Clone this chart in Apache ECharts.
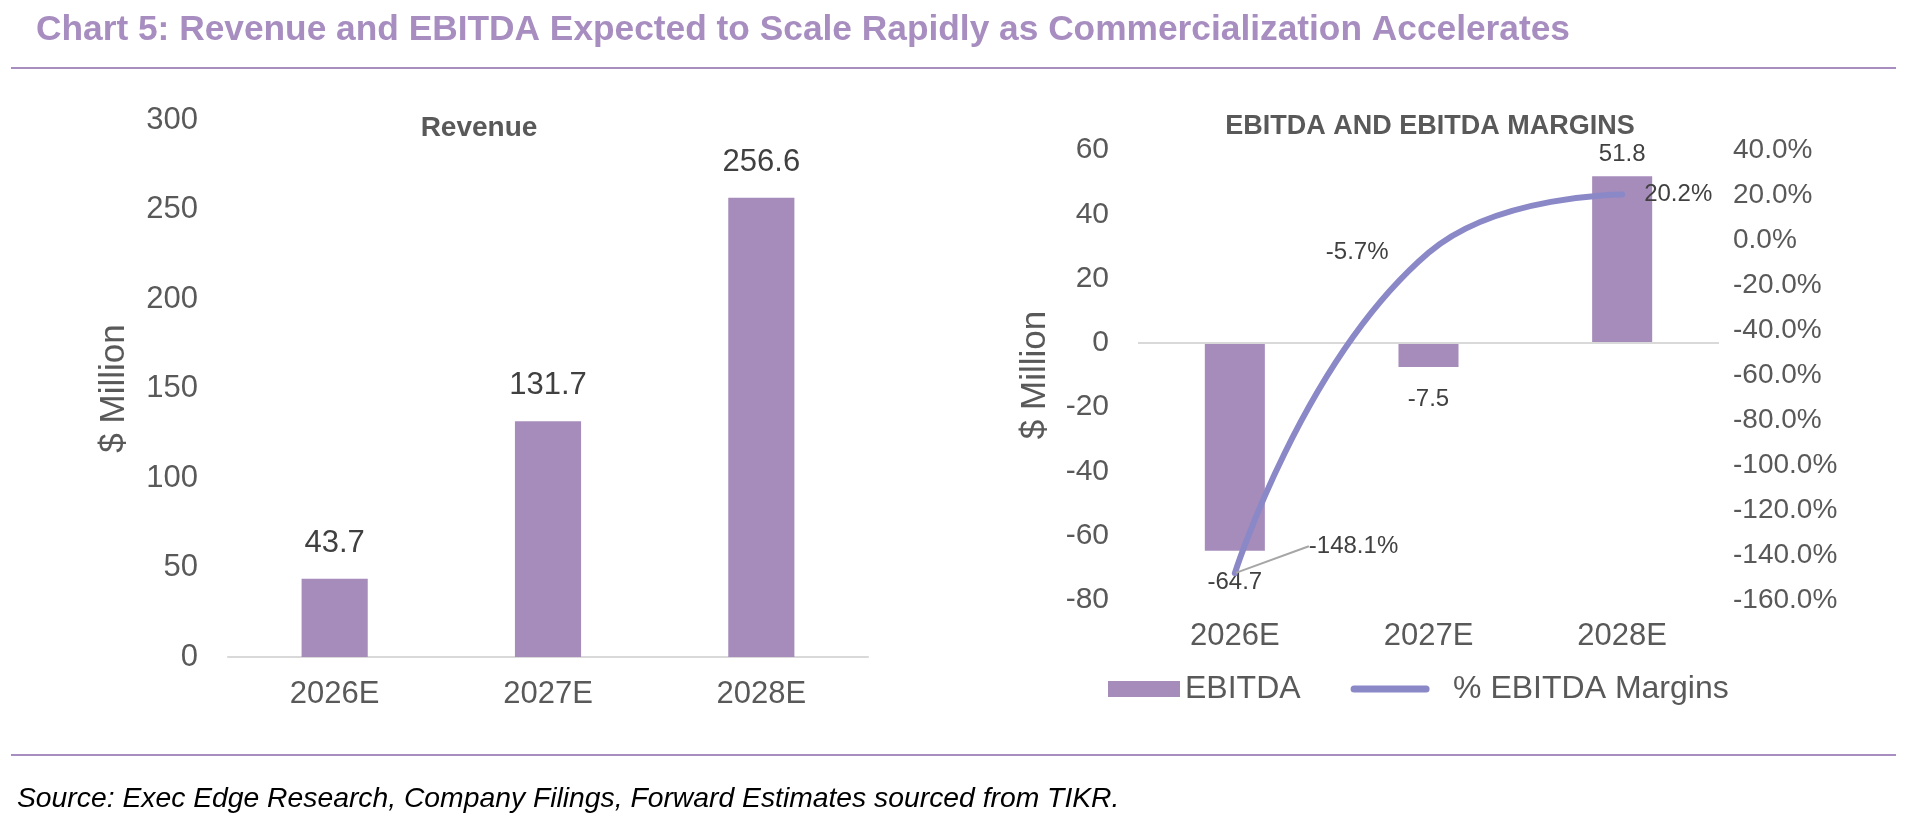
<!DOCTYPE html>
<html>
<head>
<meta charset="utf-8">
<title>Chart 5</title>
<script src="https://cdn.jsdelivr.net/npm/echarts@6/dist/echarts.min.js"></script>
<style>
  html, body { margin: 0; padding: 0; background: #fff; }
  #chart { width: 1906px; height: 824px; }
</style>
</head>
<body>
<div id="chart"></div>
<script>
// data
var years = ['2026E', '2027E', '2028E'];
var revenue = [43.7, 131.7, 256.6];
var ebitda = [-64.7, -7.5, 51.8];
var ebitdaMargin = [-148.1, -5.7, 20.2];

var purple = '#A68CBA';
var lineBlue = '#8B88C8';
var axisText = '#595959';
var labelText = '#404040';
var font = 'Liberation Sans, Arial, sans-serif';

var chart = echarts.init(document.getElementById('chart'));

// negative bars get their label below the bar
var ebitdaData = ebitda.map(function (v) {
    return {
        value: v,
        label: { position: v < 0 ? 'bottom' : 'top', distance: v < 0 ? 20 : 10 }
    };
});

// margin labels sit left / right of the line points, only the first one has a leader line
var marginData = ebitdaMargin.map(function (v, i) {
    var pos = ['right', 'left', 'right'][i];
    var dist = [8, 39, 21][i];
    return {
        value: v,
        label: { position: pos, distance: dist },
        labelLine: { show: i === 0 }
    };
});

var option = {
    animation: false,
    textStyle: { fontFamily: font },
    title: [{
        text: 'Chart 5: Revenue and EBITDA Expected to Scale Rapidly as Commercialization Accelerates',
        left: 31,
        top: 8,
        textStyle: { color: '#A78DC0', fontSize: 35.3, fontWeight: 'bold', fontFamily: font }
    }, {
        text: 'Revenue',
        left: 474,
        top: 109,
        textAlign: 'center',
        textStyle: { color: axisText, fontSize: 28, fontWeight: 'bold', fontFamily: font }
    }, {
        text: 'EBITDA AND EBITDA MARGINS',
        left: 1425,
        top: 108,
        textAlign: 'center',
        textStyle: { color: axisText, fontSize: 27, fontWeight: 'bold', fontFamily: font }
    }, {
        text: 'Source: Exec Edge Research, Company Filings, Forward Estimates sourced from TIKR.',
        left: 12,
        top: 780,
        textStyle: { color: '#000', fontSize: 28.3, fontWeight: 'normal', fontStyle: 'italic', fontFamily: font }
    }],
    graphic: [{
        type: 'line',
        shape: { x1: 11, y1: 68, x2: 1896, y2: 68 },
        style: { stroke: '#A78DC0', lineWidth: 2 }
    }, {
        type: 'line',
        shape: { x1: 11, y1: 755, x2: 1896, y2: 755 },
        style: { stroke: '#A78DC0', lineWidth: 2 }
    }],
    legend: {
        left: 1103,
        top: 668,
        itemWidth: 72,
        itemHeight: 16,
        itemGap: 50,
        textStyle: { color: axisText, fontSize: 32, fontFamily: font },
        data: [
            { name: 'EBITDA', icon: 'rect' },
            {
                name: '% EBITDA Margins',
                itemStyle: { opacity: 0 },
                lineStyle: { width: 7, cap: 'round' },
                textStyle: { padding: [0, 0, 0, 22] }
            }
        ]
    },
    grid: [
        { left: 228, top: 120, width: 640, height: 537 },
        { left: 1138, top: 150, width: 581, height: 450 }
    ],
    xAxis: [{
        gridIndex: 0,
        type: 'category',
        data: years,
        axisLine: { lineStyle: { color: '#D9D9D9', width: 2 } },
        axisTick: { show: false },
        axisLabel: { color: axisText, fontSize: 31, margin: 22 }
    }, {
        gridIndex: 1,
        type: 'category',
        data: years,
        axisLine: { show: false, onZero: false },
        axisTick: { show: false },
        axisLabel: { color: axisText, fontSize: 31, margin: 21 }
    }],
    yAxis: [{
        gridIndex: 0,
        type: 'value',
        min: 0,
        max: 300,
        interval: 50,
        name: '$ Million',
        nameLocation: 'middle',
        nameRotate: 90,
        nameGap: 96,
        nameTextStyle: { color: axisText, fontSize: 35 },
        axisLine: { show: false },
        axisTick: { show: false },
        splitLine: { show: false },
        axisLabel: { color: axisText, fontSize: 31, margin: 30 }
    }, {
        gridIndex: 1,
        type: 'value',
        min: -80,
        max: 60,
        interval: 20,
        name: '$ Million',
        nameLocation: 'middle',
        nameRotate: 90,
        nameGap: 85,
        nameTextStyle: { color: axisText, fontSize: 35 },
        axisLine: { show: false },
        axisTick: { show: false },
        splitLine: { show: false },
        axisLabel: { color: axisText, fontSize: 30, margin: 29 }
    }, {
        gridIndex: 1,
        type: 'value',
        position: 'right',
        min: -160,
        max: 40,
        interval: 20,
        axisLine: { show: false },
        axisTick: { show: false },
        splitLine: { show: false },
        axisLabel: {
            color: axisText,
            fontSize: 28,
            margin: 14,
            formatter: function (v) { return v.toFixed(1) + '%'; }
        }
    }],
    series: [{
        name: 'Revenue',
        type: 'bar',
        xAxisIndex: 0,
        yAxisIndex: 0,
        barWidth: '31%',
        data: revenue,
        itemStyle: { color: purple },
        label: {
            show: true,
            position: 'top',
            distance: 20,
            color: labelText,
            fontSize: 31,
            formatter: function (p) { return p.value.toFixed(1); }
        }
    }, {
        name: 'EBITDA',
        type: 'bar',
        xAxisIndex: 1,
        yAxisIndex: 1,
        barWidth: '31%',
        data: ebitdaData,
        itemStyle: { color: purple },
        label: {
            show: true,
            color: labelText,
            fontSize: 24,
            formatter: function (p) { return p.value.toFixed(1); }
        },
        markLine: {
            silent: true,
            symbol: 'none',
            label: { show: false },
            lineStyle: { color: '#D9D9D9', width: 2, type: 'solid' },
            data: [{ yAxis: 0 }]
        }
    }, {
        name: '% EBITDA Margins',
        type: 'line',
        xAxisIndex: 1,
        yAxisIndex: 2,
        smooth: 0.5,
        symbol: 'circle',
        symbolSize: 2,
        showSymbol: true,
        z: 5,
        data: marginData,
        itemStyle: { color: lineBlue },
        lineStyle: { color: lineBlue, width: 6, cap: 'round' },
        label: {
            show: true,
            color: labelText,
            fontSize: 24,
            formatter: function (p) { return p.value.toFixed(1) + '%'; }
        },
        labelLine: {
            lineStyle: { color: '#A6A6A6', width: 2 }
        },
        labelLayout: function (params) {
            // move the first label up-right, with a leader line
            if (params.dataIndex === 0) {
                return { dx: 65, dy: -27 };
            }
            return {};
        }
    }]
};

chart.setOption(option);
</script>
</body>
</html>
